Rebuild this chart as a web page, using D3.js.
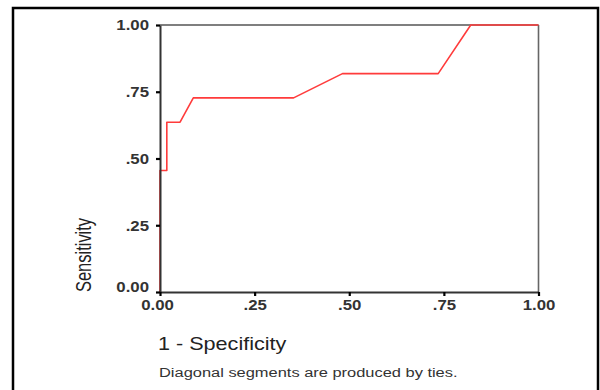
<!DOCTYPE html>
<html>
<head>
<meta charset="utf-8">
<script src="https://cdn.jsdelivr.net/npm/d3@7"></script>
<style>
  html, body { margin: 0; padding: 0; background: #fff; }
  svg { display: block; }
  text { font-family: "Liberation Sans", Arial, sans-serif; }
</style>
</head>
<body>
<svg id="chart" width="600" height="390"></svg>
<script>
// ---- data ----
const fpr = [0, 0, 0.018, 0.018, 0.053, 0.088, 0.353, 0.482, 0.735, 0.821, 1];
const tpr = [0, 0.455, 0.455, 0.636, 0.636, 0.727, 0.727, 0.818, 0.818, 1, 1];
const tickValues = [0, 0.25, 0.5, 0.75, 1];
const tickLabels = ["0.00", ".25", ".50", ".75", "1.00"];
const xTitle = "1 - Specificity";
const yTitle = "Sensitivity";
const footnote = "Diagonal segments are produced by ties.";

const svg = d3.select("#chart");
const x = d3.scaleLinear().domain([0, 1]).range([160, 538.5]);
const y = d3.scaleLinear().domain([0, 1]).range([292, 25]);

// outer frame
svg.append("rect")
  .attr("x", 13).attr("y", 8).attr("width", 585).attr("height", 420)
  .attr("fill", "none").attr("stroke", "#000").attr("stroke-width", 2.5);

// top & right frame of plot
svg.append("line").attr("x1", x(0)).attr("x2", x(1)).attr("y1", y(1)).attr("y2", y(1))
  .attr("stroke", "#555").attr("stroke-width", 1.6);
svg.append("line").attr("x1", x(1)).attr("x2", x(1)).attr("y1", y(1)).attr("y2", y(0))
  .attr("stroke", "#666").attr("stroke-width", 1.6);

// ROC curve
const pts = fpr.map((f, i) => [f, tpr[i]]);
svg.append("path")
  .datum(pts)
  .attr("fill", "none")
  .attr("stroke", "#ff3b3b")
  .attr("stroke-width", 1.6)
  .attr("stroke-linejoin", "round")
  .attr("d", d3.line().x(d => x(d[0])).y(d => y(d[1])));

const fmt = v => tickLabels[tickValues.indexOf(v)];

// y axis
const gy = svg.append("g").attr("transform", `translate(${x(0)},0)`)
  .call(d3.axisLeft(y).tickValues(tickValues).tickFormat(fmt).tickSize(4).tickSizeOuter(0));
// x axis
const gx = svg.append("g").attr("transform", `translate(0,${y(0)})`)
  .call(d3.axisBottom(x).tickValues(tickValues).tickFormat(fmt).tickSize(4).tickSizeOuter(0));

[gx, gy].forEach(g => {
  g.select(".domain").attr("stroke", "#333").attr("stroke-width", 2);
  g.selectAll(".tick line").attr("stroke", "#000").attr("stroke-width", 2.2);
  g.selectAll(".tick text")
    .attr("fill", "#333")
    .attr("font-size", 14)
    .attr("font-weight", "bold")
    .attr("font-family", "'Liberation Sans', Arial, sans-serif");
});

gy.selectAll(".tick text")
  .attr("x", 0).attr("dy", "0.34em")
  .attr("transform", d => `translate(-11,${d === 0 ? -5 : 0}) scale(1.2,1)`);
gx.selectAll(".tick text")
  .attr("y", 0).attr("dy", 0)
  .attr("transform", d => `translate(${d === 0 ? -3 : 0},17.5) scale(1.2,1)`);

// x title
svg.append("text")
  .attr("transform", "translate(158,350) scale(1.2,1)")
  .attr("font-size", 18).attr("fill", "#222")
  .text(xTitle);

// y title
svg.append("text")
  .attr("transform", "translate(91,255) scale(1.3,1) rotate(-90)")
  .attr("text-anchor", "middle")
  .attr("font-size", 16.5).attr("fill", "#222")
  .text(yTitle);

// footnote
const fn = svg.append("text")
  .attr("font-size", 12).attr("fill", "#333")
  .text(footnote);
const w = fn.node().getComputedTextLength();
fn.attr("transform", `translate(159,377) scale(${299 / w},1)`);
</script>
</body>
</html>
